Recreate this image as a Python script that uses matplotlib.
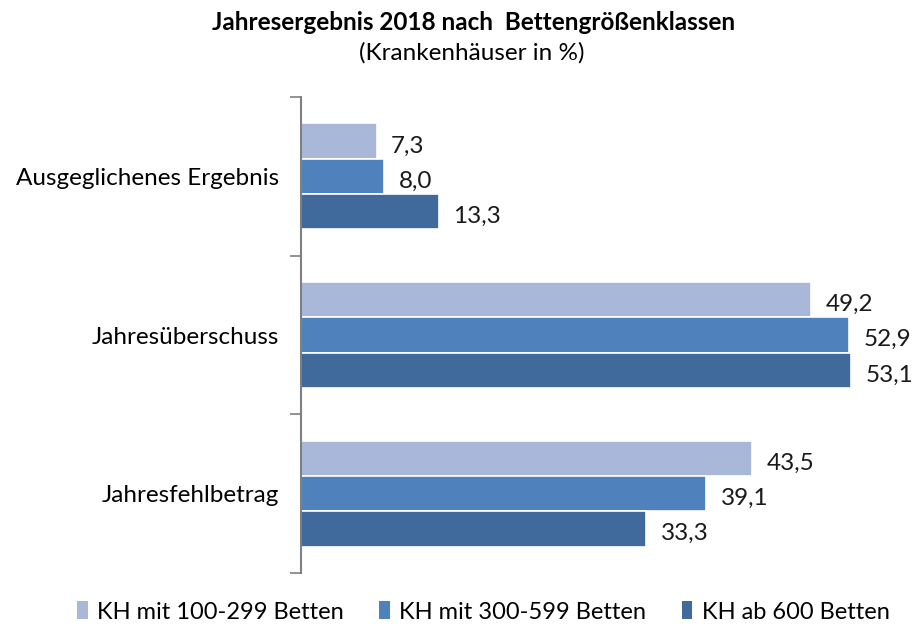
import matplotlib
matplotlib.use("Agg")
import matplotlib.pyplot as plt
from matplotlib.patches import Patch
import numpy as np

plt.rcParams['font.family'] = ['Lato', 'DejaVu Sans']

categories = ["Ausgeglichenes Ergebnis", "Jahresüberschuss", "Jahresfehlbetrag"]
series_names = ["KH mit 100-299 Betten", "KH mit 300-599 Betten", "KH ab 600 Betten"]
values_small = [7.3, 49.2, 43.5]
values_mid = [8.0, 52.9, 39.1]
values_large = [13.3, 53.1, 33.3]
colors = ["#A9B8D9", "#4F81BD", "#3F6A9B"]

series = [values_small, values_mid, values_large]

fig = plt.figure(figsize=(9.17, 6.28), dpi=100)
ax = fig.add_axes([301/917, 1-573/628, 600/917, (573-97)/628])

y = np.arange(len(categories))
h = 0.222
offsets = [-h, 0, h]
for vals, off, col in zip(series, offsets, colors):
    bars = ax.barh(y + off, vals, height=h, color=col, edgecolor="white", linewidth=1.2)
    for b, v in zip(bars, vals):
        ax.text(b.get_width() + 1.4, b.get_y() + b.get_height()/2 + 0.03,
                f"{v:.1f}".replace(".", ","), va="center", ha="left", fontsize=17.5, color="#1a1a1a")

ax.set_ylim(2.5, -0.5)
ax.set_xlim(0, 57.9)
ax.set_yticks(y)
ax.set_yticklabels(categories, fontsize=17.5)
ax.tick_params(axis="y", which="major", length=0, pad=16)
ax.set_yticks([-0.5, 0.5, 1.5, 2.5], minor=True)
ax.tick_params(axis="y", which="minor", length=8, color="#808080", width=1.2)
ax.set_xticks([])
for s in ["top", "right", "bottom"]:
    ax.spines[s].set_visible(False)
ax.spines["left"].set_color("#808080")
ax.spines["left"].set_linewidth(1.5)

fig.text(0.516, 1-22/628, "Jahresergebnis 2018 nach  Bettengrößenklassen", ha="center", va="center",
         fontsize=17.5, fontweight="bold")
fig.text(0.514, 1-53/628, "(Krankenhäuser in %)", ha="center", va="center", fontsize=17.5)

handles = [Patch(facecolor=c, edgecolor="none") for c in colors]
fig.legend(handles, series_names, loc="center", bbox_to_anchor=(0.527, 1-612/628), ncol=3,
           frameon=False, fontsize=17, handlelength=0.45, handleheight=0.8, handletextpad=0.4,
           columnspacing=1.5)

fig.savefig("out.png", dpi=100)
